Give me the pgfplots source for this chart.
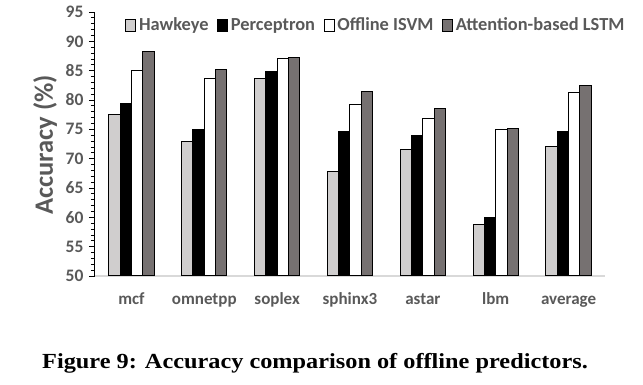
\documentclass[border=0pt]{standalone}
\usepackage{fontspec}
\setmainfont{Carlito}
\newfontfamily\capfont[FakeStretch=1.13]{Liberation Serif}
\usepackage{pgfplots}
\pgfplotsset{compat=1.18}
\definecolor{txtgray}{HTML}{595959}
\definecolor{hawk}{HTML}{D0CECE}
\definecolor{lstm}{HTML}{767171}
\definecolor{axgray}{HTML}{D9D9D9}
\begin{document}
\begin{tikzpicture}
\path[use as bounding box] (0pt,0pt) rectangle (643pt,385pt);
\begin{axis}[
  at={(95pt,109pt)}, anchor=south west,
  scale only axis, width=510pt, height=264pt,
  xmin=-0.5, xmax=6.5, ymin=50, ymax=95,
  axis x line*=bottom, axis y line*=left,
  x axis line style={draw=axgray, line width=1.2pt},
  y axis line style={draw=black, line width=1pt},
  xtick={0,...,6},
  xticklabels={mcf,omnetpp,soplex,sphinx3,astar,lbm,average},
  xtick style={draw=none},
  xticklabel style={font=\bfseries\fontsize{17}{18}\selectfont, text=txtgray, anchor=base, yshift=-23pt},
  ytick={50,55,...,95},
  minor y tick num=4,
  tick align=outside,
  major tick length=6pt, minor tick length=4pt,
  ytick style={black, line width=0.8pt},
  minor y tick style={black, line width=0.8pt},
  yticklabel style={font=\bfseries\fontsize{17.5}{18}\selectfont, text=txtgray, xshift=-2pt},
  /pgf/number format/assume math mode=true,
  ybar, bar width=0.155,
  every axis plot/.append style={draw=black, line width=1pt},
  legend style={at={(0.059,0.951)}, anchor=west, draw=none, fill=none,
    font=\bfseries\fontsize{18.4}{19}\selectfont, text=txtgray,
    /tikz/every even column/.append style={column sep=6.5pt},
    /tikz/every odd column/.append style={column sep=1pt},
    legend columns=4, inner sep=0pt},
  legend image code/.code={\draw[#1, line width=0.8pt] (0pt,-6pt) rectangle (10pt,6pt);},
  clip=false,
]
\addplot[fill=hawk, bar shift=-0.2325] coordinates {(0,77.6) (1,72.9) (2,83.7) (3,67.8) (4,71.6) (5,58.7) (6,72.1)};
\addplot[fill=black, bar shift=-0.0775] coordinates {(0,79.4) (1,74.9) (2,84.8) (3,74.7) (4,73.9) (5,60.0) (6,74.7)};
\addplot[fill=white, bar shift=0.0775] coordinates {(0,85.0) (1,83.7) (2,87.0) (3,79.2) (4,76.9) (5,75.0) (6,81.2)};
\addplot[fill=lstm, bar shift=0.2325] coordinates {(0,88.3) (1,85.2) (2,87.2) (3,81.5) (4,78.5) (5,75.2) (6,82.4)};
\legend{Hawkeye,Perceptron,Offline ISVM,Attention-based LSTM}
\end{axis}
\node[rotate=90, text=txtgray, font=\bfseries\fontsize{26.5}{28}\selectfont] at (45pt,240pt) {Accuracy (\%)};
\node[anchor=base, font=\capfont\bfseries\fontsize{21.5}{24}\selectfont] at (315pt,16pt) {Figure 9: Accuracy comparison of offline predictors.};
\end{tikzpicture}
\end{document}
